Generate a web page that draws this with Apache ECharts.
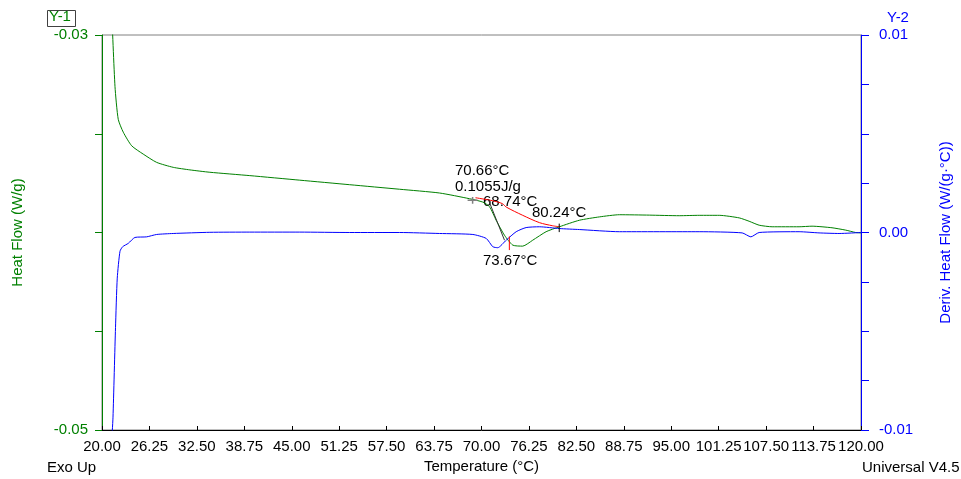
<!DOCTYPE html>
<html>
<head>
<meta charset="utf-8">
<script src="https://cdn.jsdelivr.net/npm/echarts@6/dist/echarts.min.js"></script>
<style>
html,body{margin:0;padding:0;background:#fff;}
#chart{width:961px;height:479px;}
</style>
</head>
<body>
<div id="chart"></div>
<script>
// ---- Data ----
const xTicks = [20, 26.25, 32.5, 38.75, 45, 51.25, 57.5, 63.75, 70, 76.25, 82.5, 88.75, 95, 101.25, 107.5, 113.75, 120];

// Heat Flow (W/g), left axis
const heatFlowT = [21.3, 21.71, 22.14, 22.80, 23.91, 25.43, 27.20, 29.38, 31.58, 34.21, 39.47, 46.05, 52.63, 59.21, 64.47, 68.42, 70.17, 71.05, 71.93, 73.03, 74.12, 75.43, 76.75, 78.51, 80.26, 82.89, 85.53, 88.16, 92.11, 96.05, 98.68, 101.32, 103.95, 105.26, 106.58, 108.29, 111.84, 113.55, 116.18, 117.99, 119.30, 120];
const heatFlowV = [-0.0290, -0.03260, -0.03427, -0.03492, -0.03561, -0.03603, -0.03645, -0.03670, -0.03683, -0.03695, -0.03712, -0.03735, -0.03758, -0.03781, -0.03800, -0.03829, -0.03846, -0.03869, -0.03938, -0.04014, -0.04064, -0.04069, -0.04039, -0.03996, -0.03971, -0.03938, -0.03921, -0.03910, -0.03912, -0.03915, -0.03913, -0.03913, -0.03926, -0.03943, -0.03963, -0.03971, -0.03971, -0.03968, -0.03976, -0.03988, -0.04000, -0.04002];

// Deriv. Heat Flow (W/(g·°C)), right axis
const derivT = [21.25, 21.36, 21.45, 21.78, 22.01, 22.37, 22.72, 23.46, 24.34, 25.88, 27.20, 29.38, 34.21, 39.47, 46.05, 52.63, 59.21, 64.47, 68.86, 70.62, 71.49, 72.14, 73.25, 74.57, 75.88, 77.63, 80.26, 82.89, 88.16, 98.68, 104.34, 105.49, 106.58, 111.84, 114.47, 117.11, 120];
const derivV = [-0.0105, -0.0100, -0.00935, -0.00482, -0.00231, -0.00095, -0.00072, -0.00055, -0.00025, -0.00022, -0.00010, -0.00005, 0.00001, 0.00002, 0.00002, 0.00000, 0.00000, -0.00005, -0.00010, -0.00030, -0.00072, -0.00077, -0.00039, 0.00004, 0.00025, 0.00029, 0.00020, 0.00015, 0.00004, 0.00004, -0.00002, -0.00022, 0.00000, 0.00004, -0.00002, -0.00005, 0.00000];

// Integration baseline (red)
const baselineT = [69.21, 71.45, 72.76, 73.25, 75.43, 77.63, 79.38, 80.26];
const baselineV = [-0.03824, -0.03839, -0.03854, -0.03871, -0.03913, -0.03950, -0.03966, -0.03971];

// Analysis markers
const tangentT = [70.92, 73.03];
const tangentV = [-0.03835, -0.04039];
const crossHT = [68.17, 69.49];
const crossHV = [-0.03837, -0.03837];
const crossVT = [68.83, 68.83];
const crossVV = [-0.03820, -0.03854];
const endTickT = [80.24, 80.24];
const endTickV = [-0.03955, -0.03998];
const peakTickT = [73.67, 73.67];
const peakTickV = [-0.04020, -0.04089];

const annotations = ['70.66°C', '0.1055J/g', '68.74°C', '80.24°C', '73.67°C'];

function pairs(xs, ys) { return xs.map((x, i) => [x, ys[i]]); }

const FONT = "'Liberation Sans', Arial, sans-serif";
const GREEN = '#008000';
const BLUE = '#0000ff';

const chart = echarts.init(document.getElementById('chart'), null, {renderer: 'canvas'});

function near(a, b) { return Math.abs(a - b) < 1e-9; }

const option = {
  animation: false,
  backgroundColor: '#fff',
  grid: {left: 102, right: 99, top: 35, bottom: 47, containLabel: false,
    show: true, borderColor: '#808080', borderWidth: 1, backgroundColor: 'transparent'},
  xAxis: [{
    type: 'value', min: 20, max: 120, interval: 6.25,
    position: 'bottom',
    name: 'Temperature (°C)', nameLocation: 'middle', nameGap: 29,
    nameTextStyle: {color: '#000', fontSize: 15, fontFamily: FONT},
    axisLine: {show: true, onZero: false, lineStyle: {color: '#000', width: 1}},
    axisTick: {show: true, inside: true, length: 4, lineStyle: {color: '#000', width: 1}},
    axisLabel: {color: '#000', fontSize: 15, fontFamily: FONT, margin: 9,
      formatter: v => v.toFixed(2), showMinLabel: true, showMaxLabel: true},
    splitLine: {show: false}
  }],
  yAxis: [{
    type: 'value', min: -0.05, max: -0.03, interval: 0.005, position: 'left',
    name: 'Heat Flow (W/g)', nameLocation: 'middle', nameGap: 77,
    nameTextStyle: {color: GREEN, fontSize: 15, fontFamily: FONT},
    axisLine: {show: true, onZero: false, lineStyle: {color: GREEN, width: 1}},
    axisTick: {show: true, inside: false, length: 7, lineStyle: {color: GREEN}},
    axisLabel: {color: GREEN, fontSize: 15, fontFamily: FONT, margin: 14,
      formatter: v => (near(v, -0.03) || near(v, -0.05)) ? v.toFixed(2) : ''},
    splitLine: {show: false}
  }, {
    type: 'value', min: -0.01, max: 0.01, interval: 0.0025, position: 'right',
    name: 'Deriv. Heat Flow (W/(g·°C))', nameLocation: 'middle', nameGap: 77,
    nameTextStyle: {color: BLUE, fontSize: 15, fontFamily: FONT},
    axisLine: {show: true, onZero: false, lineStyle: {color: BLUE, width: 1}},
    axisTick: {show: true, inside: false, length: 8, lineStyle: {color: BLUE}},
    axisLabel: {color: BLUE, fontSize: 15, fontFamily: FONT, margin: 18,
      formatter: v => (near(v, -0.01) || near(v, 0) || near(v, 0.01)) ? v.toFixed(2) : ''},
    splitLine: {show: false}
  }],
  series: [
    {type: 'line', name: 'Heat Flow', yAxisIndex: 0, data: pairs(heatFlowT, heatFlowV),
      showSymbol: false, symbol: 'none', smooth: 0.2, lineStyle: {color: GREEN, width: 1}, z: 3},
    {type: 'line', name: 'Deriv', yAxisIndex: 1, data: pairs(derivT, derivV),
      showSymbol: false, symbol: 'none', smooth: 0.2, lineStyle: {color: BLUE, width: 1}, z: 3},
    {type: 'line', name: 'Baseline', yAxisIndex: 0, data: pairs(baselineT, baselineV),
      showSymbol: false, symbol: 'none', smooth: 0.3, lineStyle: {color: '#ff0000', width: 1}, z: 4},
    {type: 'line', name: 'Tangent', yAxisIndex: 0, data: pairs(tangentT, tangentV),
      showSymbol: false, symbol: 'none', lineStyle: {color: '#333', width: 1}, z: 5},
    {type: 'line', name: 'CrossH', yAxisIndex: 0, data: pairs(crossHT, crossHV),
      showSymbol: false, symbol: 'none', lineStyle: {color: '#808080', width: 1.5}, z: 5},
    {type: 'line', name: 'CrossV', yAxisIndex: 0, data: pairs(crossVT, crossVV),
      showSymbol: false, symbol: 'none', lineStyle: {color: '#808080', width: 1.5}, z: 5},
    {type: 'line', name: 'EndTick', yAxisIndex: 0, data: pairs(endTickT, endTickV),
      showSymbol: false, symbol: 'none', lineStyle: {color: '#000', width: 1}, z: 5},
    {type: 'line', name: 'PeakTick', yAxisIndex: 0, data: pairs(peakTickT, peakTickV),
      showSymbol: false, symbol: 'none', lineStyle: {color: '#ff0000', width: 1}, z: 5}
  ],
  graphic: [
    {type: 'rect', left: 45, top: 8, shape: {width: 28, height: 16},
      style: {fill: 'none', stroke: '#404040', lineWidth: 1}},
    {type: 'text', left: 49, top: 9, style: {text: 'Y-1', fill: GREEN, font: '15px ' + FONT}},
    {type: 'text', left: 887, top: 10, style: {text: 'Y-2', fill: BLUE, font: '15px ' + FONT}},
    {type: 'text', left: 47, top: 460, style: {text: 'Exo Up', fill: '#000', font: '15px ' + FONT}},
    {type: 'text', left: 862, top: 460, style: {text: 'Universal V4.5', fill: '#000', font: '15px ' + FONT}},
    {type: 'text', left: 455, top: 163, style: {text: annotations[0], fill: '#000', font: '15px ' + FONT}},
    {type: 'text', left: 455, top: 179, style: {text: annotations[1], fill: '#000', font: '15px ' + FONT}},
    {type: 'text', left: 483, top: 194, style: {text: annotations[2], fill: '#000', font: '15px ' + FONT}},
    {type: 'text', left: 532, top: 205, style: {text: annotations[3], fill: '#000', font: '15px ' + FONT}},
    {type: 'text', left: 483, top: 253, style: {text: annotations[4], fill: '#000', font: '15px ' + FONT}}
  ]
};
chart.setOption(option);
</script>
</body>
</html>
